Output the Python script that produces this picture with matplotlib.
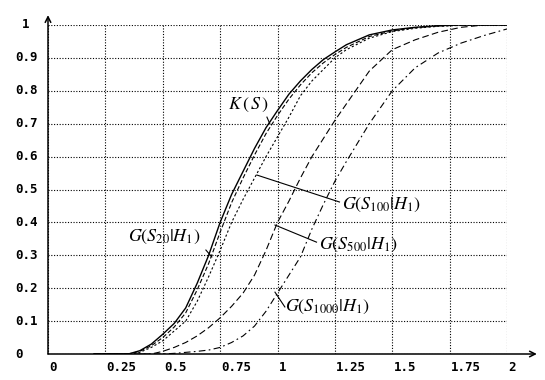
import matplotlib.pyplot as plt
import matplotlib.transforms as mtransforms

plt.rcParams['mathtext.fontset'] = 'stix'

# sample points
s = [0.2, 0.3, 0.35, 0.4, 0.45, 0.5, 0.55, 0.6, 0.65, 0.7, 0.75, 0.8, 0.85,
     0.9, 0.95, 1.0, 1.05, 1.1, 1.15, 1.2, 1.25, 1.3, 1.4, 1.5, 1.6, 1.7,
     1.8, 1.9, 2.0]
k_s = [0, 0, 0, 0.01, 0.03, 0.06, 0.093, 0.14, 0.215, 0.30, 0.40, 0.485, 0.555,
       0.625, 0.688, 0.74, 0.79, 0.83, 0.865, 0.895, 0.918, 0.94, 0.97, 0.985,
       0.993, 0.998, 1, 1, 1]
g20 = [0, 0, 0, 0.008, 0.025, 0.05, 0.082, 0.125, 0.195, 0.275, 0.37, 0.46, 0.535,
       0.605, 0.67, 0.725, 0.775, 0.818, 0.855, 0.885, 0.91, 0.932, 0.965, 0.982,
       0.992, 0.997, 1, 1, 1]
g100 = [0, 0, 0, 0.005, 0.02, 0.04, 0.07, 0.10, 0.16, 0.235, 0.315, 0.40, 0.47,
        0.535, 0.6, 0.66, 0.72, 0.785, 0.83, 0.865, 0.9, 0.925, 0.96, 0.98,
        0.99, 0.996, 0.999, 1, 1]
g500 = [0, 0, 0, 0, 0, 0.008, 0.02, 0.035, 0.055, 0.08, 0.11, 0.145, 0.185,
        0.24, 0.315, 0.4, 0.465, 0.535, 0.6, 0.655, 0.71, 0.76, 0.86, 0.925,
        0.955, 0.978, 0.993, 1.0, 1.0]
g1000 = [0, 0, 0, 0, 0, 0, 0.002, 0.005, 0.008, 0.012, 0.02, 0.035, 0.055,
         0.085, 0.13, 0.185, 0.24, 0.295, 0.38, 0.455, 0.525, 0.585, 0.7, 0.8,
         0.87, 0.915, 0.945, 0.968, 0.988]

xticks = [0, 0.25, 0.5, 0.75, 1, 1.25, 1.5, 1.75, 2]
xlabels = ['0', '0.25', '0.5', '0.75', '1', '1.25', '1.5', '1.75', '2']
yticks = [0, 0.1, 0.2, 0.3, 0.4, 0.5, 0.6, 0.7, 0.8, 0.9, 1]
ylabels = ['0', '0.1', '0.2', '0.3', '0.4', '0.5', '0.6', '0.7', '0.8', '0.9', '1']

fig = plt.figure(figsize=(5.45, 3.8), dpi=100)
ax = fig.add_axes([48 / 545, 1 - 354 / 380, 459 / 545, 329 / 380])
ax.set_xlim(0, 2)
ax.set_ylim(0, 1)
for sp in ax.spines.values():
    sp.set_visible(False)
ax.set_xticks(xticks)
ax.set_yticks(yticks)
ax.tick_params(length=0, labelbottom=False, labelleft=False)
ax.grid(True, color='black', linestyle=(0, (1, 1.5)), linewidth=0.8)

# axes with arrow heads
ax.annotate('', xy=(0, 1.03), xytext=(0, 0), xycoords='axes fraction',
            arrowprops=dict(arrowstyle='->', lw=1.1, color='black', shrinkA=0, shrinkB=0))
ax.annotate('', xy=(1.065, 0), xytext=(0, 0), xycoords='axes fraction',
            arrowprops=dict(arrowstyle='->', lw=1.1, color='black', shrinkA=0, shrinkB=0))

lw = 0.8
ax.plot(s, k_s, color='black', lw=1.0, ls='-')
ax.plot(s, g20, color='black', lw=lw, ls=(0, (4, 2)))
ax.plot(s, g100, color='black', lw=lw, ls=(0, (2, 2)))
ax.plot(s, g500, color='black', lw=lw, ls=(0, (6, 3)))
ax.plot(s, g1000, color='black', lw=lw, ls=(0, (6, 3, 1.5, 3)))

# tick labels
tick_font = dict(family='DejaVu Sans Mono', weight='bold', fontsize=9)
xlab_tr = mtransforms.blended_transform_factory(ax.transData, ax.transAxes)
for v, t in zip(xticks, xlabels):
    ax.text(v + 0.005, -0.042, t, transform=xlab_tr, ha='left', va='center', **tick_font)
ylab_tr = mtransforms.blended_transform_factory(ax.transAxes, ax.transData)
for v, t in zip(yticks, ylabels):
    if t == '1':
        ax.text(-0.048, v, t, transform=ylab_tr, ha='center', va='center', **tick_font)
    else:
        ax.text(-0.072, v, t, transform=ylab_tr, ha='left', va='center', **tick_font)

# curve labels with pointers
lab = dict(fontsize=13, color='black', va='center')
ax.text(0.784, 0.757, r'$K\,(\,S\,)$', ha='left', **lab)
ax.plot([0.954, 0.967], [0.72, 0.699], color='black', lw=lw)
ax.text(0.348, 0.356, r'$G(S_{20}|H_1)$', ha='left', **lab)
ax.plot([0.688, 0.714], [0.316, 0.295], color='black', lw=lw)
ax.text(1.28, 0.453, r'$G(S_{100}|H_1)$', ha='left', **lab)
ax.plot([0.91, 1.27], [0.544, 0.462], color='black', lw=lw)
ax.text(1.18, 0.331, r'$G(S_{500}|H_1)$', ha='left', **lab)
ax.plot([0.989, 1.17], [0.392, 0.34], color='black', lw=lw)
ax.text(1.032, 0.143, r'$G(S_{1000}|H_1)$', ha='left', **lab)
ax.plot([0.989, 1.032], [0.188, 0.143], color='black', lw=lw)

fig.savefig('out.png', dpi=100)
